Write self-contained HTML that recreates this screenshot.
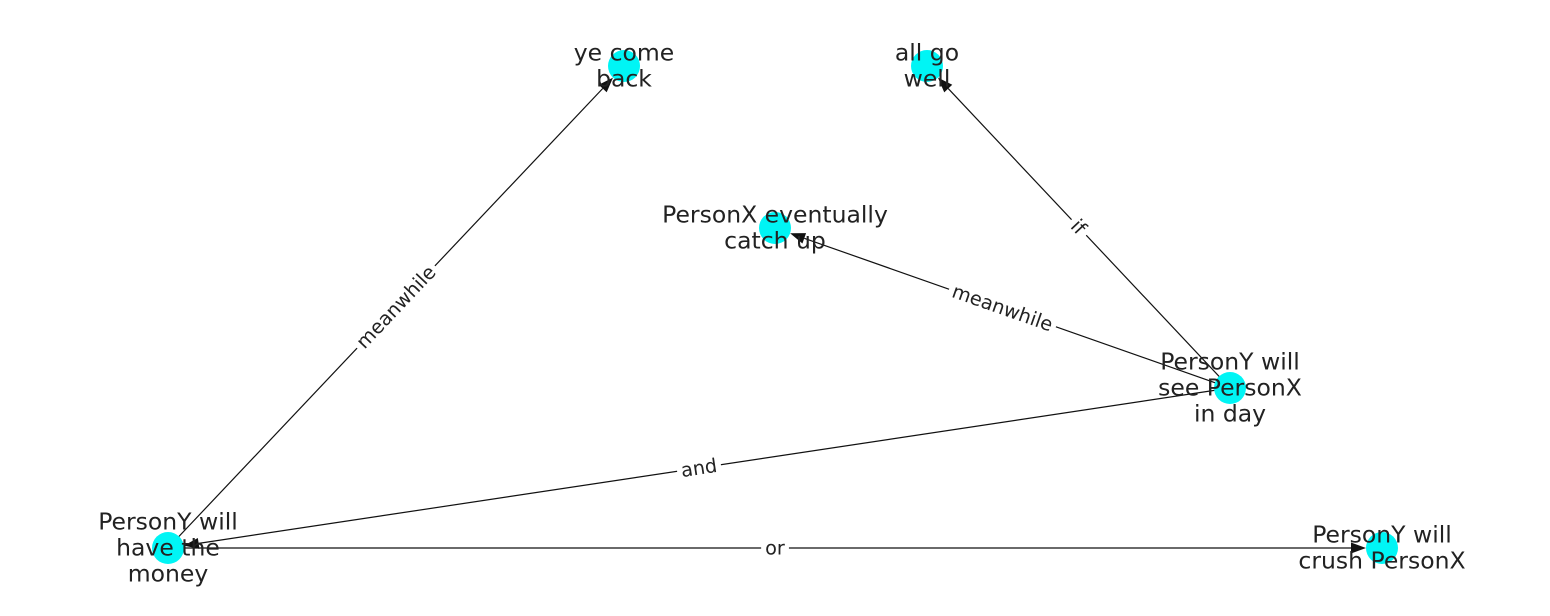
<!DOCTYPE html>
<html>
<head>
<meta charset="utf-8">
<style>
  html,body{margin:0;padding:0;background:#fff;}
  svg{display:block;}
  text{font-family:"DejaVu Sans","Liberation Sans",sans-serif;fill:#222;}
</style>
</head>
<body>
<svg id="chart" width="1550" height="616" viewBox="0 0 1550 616" xmlns="http://www.w3.org/2000/svg">
  <g id="edges"></g>
  <g id="nodes"></g>
  <g id="labels"></g>
  <g id="elabels"></g>
</svg>
<script>
const nodeIds = ["ye-come-back","all-go-well","catch-up","see-personx","have-money","crush-personx"];
const nodeText = [["ye come","back"],["all go","well"],["PersonX eventually","catch up"],["PersonY will","see PersonX","in day"],["PersonY will","have the","money"],["PersonY will","crush PersonX"]];
const nodeX = [624, 927, 775, 1230, 168, 1382];
const nodeY = [66, 66, 228, 388, 548, 548];
const edgeFrom = [4, 3, 3, 3, 4];
const edgeTo = [0, 1, 2, 4, 5];
const edgeLabel = ["meanwhile","if","meanwhile","and","or"];

const NS = "http://www.w3.org/2000/svg";
const R = 16;
const eg = document.getElementById("edges");
const ng = document.getElementById("nodes");
const lg = document.getElementById("labels");
const elg = document.getElementById("elabels");

for (let i = 0; i < edgeFrom.length; i++) {
  const x1 = nodeX[edgeFrom[i]], y1 = nodeY[edgeFrom[i]];
  const x2 = nodeX[edgeTo[i]], y2 = nodeY[edgeTo[i]];
  const dx = x2 - x1, dy = y2 - y1, L = Math.hypot(dx, dy);
  const ux = dx / L, uy = dy / L;
  const tx = x2 - ux * R, ty = y2 - uy * R;
  const bx = tx - ux * 15, by = ty - uy * 15;
  const line = document.createElementNS(NS, "line");
  
  
  line.setAttribute("x1", x1); line.setAttribute("y1", y1);
  line.setAttribute("x2", bx); line.setAttribute("y2", by);
  line.setAttribute("stroke", "#111"); line.setAttribute("stroke-width", "1.2");
  eg.appendChild(line);
  const px = -uy, py = ux;
  const head = document.createElementNS(NS, "polygon");
  
  
  head.setAttribute("points", `${tx},${ty} ${bx + px*5.5},${by + py*5.5} ${bx - px*5.5},${by - py*5.5}`);
  head.setAttribute("fill", "#111");
  eg.appendChild(head);

  const mx = (x1 + x2) / 2, my = (y1 + y2) / 2;
  let ang = Math.atan2(dy, dx) * 180 / Math.PI;
  if (ang > 90) ang -= 180;
  if (ang < -90) ang += 180;
  const g = document.createElementNS(NS, "g");
  
  
  g.setAttribute("transform", `translate(${mx},${my}) rotate(${ang})`);
  const t = document.createElementNS(NS, "text");
  t.setAttribute("x", 0); t.setAttribute("y", 0);
  t.setAttribute("text-anchor", "middle");
  t.setAttribute("dominant-baseline", "central");
  t.setAttribute("font-size", "19.3");
  t.textContent = edgeLabel[i];
  const rect = document.createElementNS(NS, "rect");
  rect.setAttribute("fill", "#fff");
  g.appendChild(rect); g.appendChild(t);
  elg.appendChild(g);
  const bb = t.getBBox();
  rect.setAttribute("x", bb.x - 4); rect.setAttribute("y", bb.y - 2);
  rect.setAttribute("width", bb.width + 8); rect.setAttribute("height", bb.height + 4);
}

for (let i = 0; i < nodeIds.length; i++) {
  const c = document.createElementNS(NS, "circle");
  
  
  c.setAttribute("cx", nodeX[i]); c.setAttribute("cy", nodeY[i]);
  c.setAttribute("r", R); c.setAttribute("fill", "#00f5f5");
  ng.appendChild(c);
  const lines = nodeText[i];
  const lh = 26;
  const t = document.createElementNS(NS, "text");
  
  
  t.setAttribute("text-anchor", "middle");
  t.setAttribute("font-size", "23.5");
  lines.forEach((s, k) => {
    const ts = document.createElementNS(NS, "tspan");
    ts.setAttribute("x", nodeX[i]);
    ts.setAttribute("y", nodeY[i] + (k - (lines.length - 1) / 2) * lh + 7.5);
    ts.textContent = s;
    t.appendChild(ts);
  });
  lg.appendChild(t);
}
</script>
</body>
</html>
